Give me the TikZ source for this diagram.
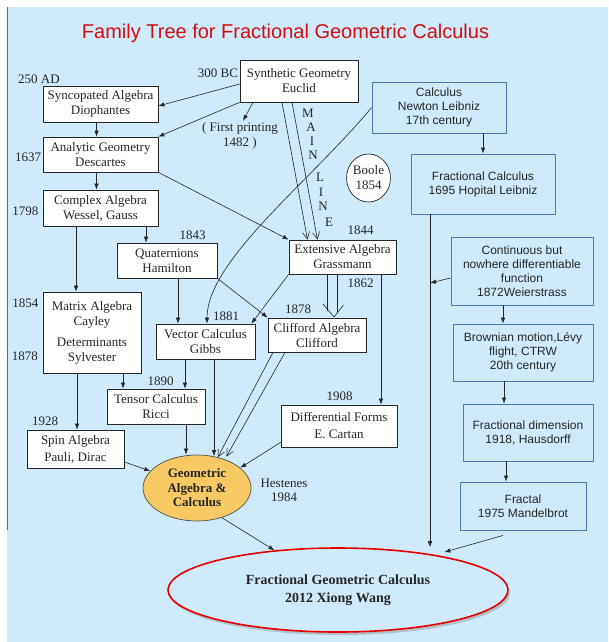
\documentclass[tikz,border=0pt]{standalone}
\usepackage{fontspec}
\setmainfont{Liberation Serif}
\newfontfamily\arialf{Liberation Sans}
\usetikzlibrary{arrows.meta,shapes.geometric,shadows}
\definecolor{bgblue}{RGB}{207,235,251}
\definecolor{boxblue}{RGB}{74,125,186}
\definecolor{gafill}{RGB}{246,201,100}
\definecolor{titlered}{RGB}{214,12,20}
\definecolor{ink}{RGB}{38,38,38}
\begin{document}
\begin{tikzpicture}[x=1pt,y=-1pt,
  every node/.style={text=ink},
  sbox/.style={draw=ink, line width=0.7pt, fill=white, font=\fontsize{13}{15}\selectfont, align=center, inner sep=0pt},
  bbox/.style={draw=boxblue, line width=0.9pt, fill=bgblue, font=\arialf\fontsize{12}{14}\selectfont, align=center, inner sep=0pt},
  lbl/.style={font=\fontsize{13}{15}\selectfont, inner sep=0pt, align=center},
  ln/.style={draw=ink, line width=0.6pt},
  arr/.style={ln, -{Latex[length=6pt,width=4.5pt]}},
  barb/.style={ln, -{Straight Barb[length=7pt,width=7pt]}}
]
\useasboundingbox (0,0) rectangle (608,642);
\fill[bgblue] (7,7) rectangle (608,642);
\draw[black!60, line width=0.8pt] (7,7) -- (7,530);

% title
\node[font=\arialf\fontsize{20}{24}\selectfont, text=titlered, inner sep=0pt] (title) at (285.5,33) {Family Tree for Fractional Geometric Calculus};

% serif boxes
\node[sbox, minimum width=118, minimum height=42] (syn) at (299,81) {Synthetic Geometry\\Euclid};
\node[sbox, minimum width=115, minimum height=36] (sync) at (100.5,104) {Syncopated Algebra\\Diophantes};
\node[sbox, minimum width=115, minimum height=35] (anal) at (100.5,154.5) {Analytic Geometry\\Descartes};
\node[sbox, minimum width=115, minimum height=36] (cplx) at (100.5,208) {Complex Algebra\\Wessel, Gauss};
\node[sbox, minimum width=100, minimum height=35] (quat) at (167,260.5) {Quaternions\\Hamilton};
\node[sbox, minimum width=107, minimum height=34] (ext) at (342.5,257) {Extensive Algebra\\Grassmann};
\node[sbox, minimum width=98, minimum height=81] (matrix) at (92,332.5) {Matrix Algebra\\Cayley\\[6pt]Determinants\\Sylvester};
\node[sbox, minimum width=99, minimum height=35] (vec) at (205.5,341.5) {Vector Calculus\\Gibbs};
\node[sbox, minimum width=98, minimum height=34] (cliff) at (317,335) {Clifford Algebra\\Clifford};
\node[sbox, minimum width=98, minimum height=35] (tensor) at (156,406.5) {Tensor Calculus\\Ricci};
\node[sbox, minimum width=97, minimum height=38] (spin) at (75.5,449) {Spin Algebra\\[2pt]Pauli, Dirac};
\node[sbox, minimum width=116, minimum height=42] (diff) at (339,426) {Differential Forms\\[2pt]E. Cartan};
\node[sbox, ellipse, minimum width=43, minimum height=48] (boole) at (368.5,178) {Boole\\1854};

% blue boxes
\node[bbox, minimum width=134, minimum height=51] (calc) at (439,107.5) {Calculus\\Newton Leibniz\\17th century};
\node[bbox, minimum width=144, minimum height=60] (frac) at (483,184) {Fractional Calculus\\1695 Hopital Leibniz};
\node[bbox, minimum width=142, minimum height=68] (cont) at (522,271) {Continuous but\\nowhere differentiable\\function\\1872Weierstrass};
\node[bbox, minimum width=140, minimum height=57] (brown) at (523,352.5) {Brownian motion,Lévy\\flight, CTRW\\20th century};
\node[bbox, minimum width=130, minimum height=57] (fdim) at (528,432.5) {Fractional dimension\\1918, Hausdorff};
\node[bbox, minimum width=126, minimum height=48] (fractal) at (523,506) {Fractal\\1975 Mandelbrot};

% ellipses
\node[ellipse, draw=ink!80, line width=0.7pt, fill=gafill, minimum width=108, minimum height=66, inner sep=0pt, align=center, font=\bfseries\fontsize{13}{14.5}\selectfont] (ga) at (197,488) {Geometric\\Algebra \&\\Calculus};
\node[ellipse, draw=red!90!black, line width=1.6pt, fill=bgblue, minimum width=340, minimum height=84, inner sep=0pt, align=center, font=\bfseries\fontsize{14}{18}\selectfont,
  drop shadow={shadow xshift=2pt, shadow yshift=-3pt, fill=black!45, opacity=0.45}] (fgc) at (338,590) {Fractional Geometric Calculus\\2012 Xiong Wang};

% labels
\node[lbl] (l250) at (39,79) {250 AD};
\node[lbl] (l300) at (218,73) {300 BC};
\node[lbl] (fp) at (240,135.5) {( First printing\\1482 )};
\node[lbl] (l1637) at (28,157) {1637};
\node[lbl] (l1798) at (25.5,211) {1798};
\node[lbl] (l1843) at (192.5,235) {1843};
\node[lbl] (l1844) at (360.5,230) {1844};
\node[lbl] (l1854) at (25.5,303) {1854};
\node[lbl] (l1878a) at (25,356) {1878};
\node[lbl] (l1881) at (226,316) {1881};
\node[lbl] (l1878b) at (298,309) {1878};
\node[lbl] (l1862) at (360.5,283) {1862};
\node[lbl] (l1890) at (160.5,381) {1890};
\node[lbl] (l1908) at (339.5,396) {1908};
\node[lbl] (l1928) at (45,421) {1928};
\node[lbl] (hest) at (284,490) {Hestenes\\[-1pt]1984};

% MAIN LINE
\node[lbl] (m1) at (308,113) {M};
\node[lbl] (m2) at (311,127) {A};
\node[lbl] (m3) at (312,141) {I};
\node[lbl] (m4) at (313,155) {N};
\node[lbl] (m5) at (320,177) {L};
\node[lbl] (m6) at (321,192) {I};
\node[lbl] (m7) at (323,206) {N};
\node[lbl] (m8) at (329,222) {E};

% connectors (left tree)
\draw[arr] ([yshift=-3pt]syn.west) -- ([yshift=-2pt]sync.east);
\draw[arr] (syn.south west) -- (anal.north east);
\draw[arr] ([xshift=-46pt]syn.south) -- ([xshift=3pt,yshift=1pt]fp.north);
\draw[arr] ([xshift=-4pt]sync.south) -- ([xshift=-4pt]anal.north);
\draw[arr] ([xshift=-4pt]anal.south) -- ([xshift=-4pt]cplx.north);
\draw[arr] (anal.south east) -- (ext.north west);
\draw[arr] ([xshift=45.5pt]cplx.south) -- ([xshift=45.5pt]cplx.south |- quat.north);
\draw[arr] ([xshift=-24.5pt]cplx.south) -- ([xshift=-24.5pt]cplx.south |- matrix.north);
\draw[arr] ([xshift=11pt]quat.south) -- ([xshift=11pt]quat.south |- vec.north);
\draw[arr] (quat.south east) -- (cliff.north west);
\draw[arr] (calc.west) .. controls (312,180) and (207,260) .. ([xshift=1.5pt]vec.north);
\draw[arr] (ext.south west) -- ([xshift=-4pt]vec.north east);
\draw[arr] ([xshift=38.5pt]ext.south) -- ([xshift=38.5pt]ext.south |- diff.north);
\draw[arr] ([xshift=31pt]matrix.south) -- ([xshift=31pt]matrix.south |- tensor.north);
\draw[arr] ([xshift=-15pt]matrix.south) -- ([xshift=-15pt]matrix.south |- spin.north);
\draw[arr] ([xshift=-20.5pt]vec.south) -- ([xshift=-20.5pt]vec.south |- tensor.north);
\draw[arr] ([xshift=30pt]tensor.south) -- ([xshift=30pt]tensor.south |- ga.north);
\draw[arr] ([xshift=8.5pt]vec.south) -- ([xshift=8.5pt,yshift=-1.5pt]vec.south |- ga.north);
\draw[arr] ([yshift=-13pt]spin.east) -- (ga.160);
\draw[arr] ([yshift=5pt]diff.south west) -- (ga.25);
\draw[arr] (ga.-50) -- (fgc.148);

% main line double arrows
\draw[barb] ([xshift=-17pt]syn.south) -- ([xshift=-35pt]ext.north);
\draw[barb] ([xshift=-7pt]syn.south) -- ([xshift=-25pt]ext.north);
\coordinate (ca) at (327,311);
\coordinate (cb) at (337,312);
\coordinate (ctip) at (334,317);
\draw[ln] ([xshift=-15.5pt]ext.south) -- (ca);
\draw[ln] ([xshift=-5.5pt]ext.south) -- (cb);
\draw[ln] (323,304) -- (ctip) -- (343.5,305);
\draw[barb] ([xshift=-44pt]cliff.south) -- (ga.56);
\draw[barb] ([xshift=-32pt]cliff.south) -- ([xshift=1pt,yshift=3pt]ga.45);

% right column
\draw[arr] ([xshift=44pt]calc.south) -- ([xshift=44pt]calc.south |- frac.north);
\coordinate (vj) at (430,283);
\draw[arr] ([xshift=-53pt]frac.south) -- ([xshift=-53pt]frac.south |- fgc.north);
\draw[arr] ([yshift=-7pt]cont.west) -- (vj);
\draw[arr] ([xshift=-19pt]cont.south) -- ([xshift=-19pt]cont.south |- brown.north);
\draw[arr] ([xshift=-19pt]brown.south) -- ([xshift=-19pt]brown.south |- fdim.north);
\draw[arr] ([xshift=-22pt]fdim.south) -- ([xshift=-22pt]fdim.south |- fractal.north);
\draw[arr] ([xshift=-20pt,yshift=-5pt]fractal.south) -- ([xshift=2pt,yshift=4pt]fgc.18);
\end{tikzpicture}
\end{document}
